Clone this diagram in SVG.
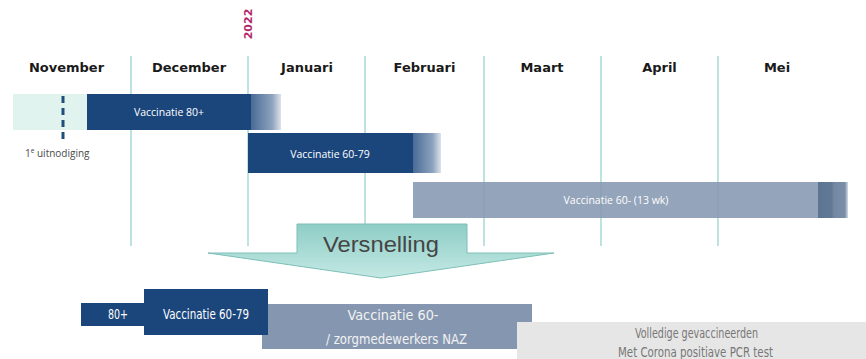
<svg xmlns="http://www.w3.org/2000/svg" width="866" height="359" viewBox="0 0 866 359">
<defs>
<style>
.month{font-family:"DejaVu Sans",Verdana,sans-serif;font-weight:bold;font-size:13px;fill:#1a1a1a;text-anchor:middle}
.grid{stroke:#a9d9d2;stroke-width:1.5}
.dark{fill:#1b467c}
.grey{fill:#8597b0}
.bartxt{font-family:"Open Sans","Liberation Sans",sans-serif;font-size:10.5px;fill:#ffffff;text-anchor:middle}
.narrow{font-family:"Liberation Sans Narrow","DejaVu Sans Condensed",sans-serif;font-size:14px;text-anchor:middle}
</style>
<linearGradient id="fadeDark" x1="0" y1="0" x2="1" y2="0">
<stop offset="0" stop-color="#1b467c" stop-opacity="0.8"/>
<stop offset="0.35" stop-color="#1b467c" stop-opacity="0.65"/>
<stop offset="0.7" stop-color="#1b467c" stop-opacity="0.5"/>
<stop offset="1" stop-color="#1b467c" stop-opacity="0.15"/>
</linearGradient>
<linearGradient id="fadeGrey" x1="0" y1="0" x2="1" y2="0">
<stop offset="0" stop-color="#5d7493"/>
<stop offset="0.45" stop-color="#627995"/>
<stop offset="0.55" stop-color="#7488a3"/>
<stop offset="0.9" stop-color="#7b8ea8"/>
<stop offset="1" stop-color="#7b8ea8" stop-opacity="0.3"/>
</linearGradient>
<linearGradient id="arrowGrad" x1="0" y1="0" x2="0" y2="1">
<stop offset="0" stop-color="#8ecdc6"/>
<stop offset="1" stop-color="#c4e8e4"/>
</linearGradient>
</defs>
<rect width="866" height="359" fill="#ffffff"/>

<g id="year">
<text transform="translate(252,24) rotate(-90)" font-family="DejaVu Sans,sans-serif" font-weight="bold" font-size="11" fill="#b3286c" text-anchor="middle">2022</text>
</g>

<g id="months">
<text class="month" x="66.5" y="72">November</text>
<text class="month" x="189" y="72">December</text>
<text class="month" x="307" y="72">Januari</text>
<text class="month" x="424.5" y="72">Februari</text>
<text class="month" x="542" y="72">Maart</text>
<text class="month" x="659.5" y="72">April</text>
<text class="month" x="777" y="72">Mei</text>
</g>

<g id="gridlines">
<line class="grid" x1="131" y1="56" x2="131" y2="246"/>
<line class="grid" x1="248" y1="56" x2="248" y2="246"/>
<line class="grid" x1="365" y1="56" x2="365" y2="246"/>
<line class="grid" x1="484" y1="56" x2="484" y2="246"/>
<line class="grid" x1="601" y1="56" x2="601" y2="246"/>
<line class="grid" x1="718" y1="56" x2="718" y2="246"/>
</g>

<g id="invite">
<rect x="13" y="94" width="74" height="36" fill="#e0f3ef"/>
<line x1="63" y1="96" x2="63" y2="141" stroke="#1f4e79" stroke-width="3" stroke-dasharray="7,5"/>
<text x="25" y="157" font-family="Open Sans,Liberation Sans,sans-serif" font-size="10" fill="#4a4a4a">1<tspan font-size="6.5" dy="-4">e</tspan><tspan dy="4"> uitnodiging</tspan></text>
</g>

<g id="bar80">
<rect x="251" y="94" width="30" height="36" fill="url(#fadeDark)"/>
<rect class="dark" x="87" y="94" width="164" height="36"/>
<text class="bartxt" x="169" y="116">Vaccinatie 80+</text>
</g>

<g id="bar6079">
<rect x="413" y="133" width="28" height="40" fill="url(#fadeDark)"/>
<rect class="dark" x="248" y="133" width="165" height="40"/>
<text class="bartxt" x="330" y="158">Vaccinatie 60-79</text>
</g>

<g id="bar60">
<rect x="818" y="182" width="30" height="36" fill="url(#fadeGrey)"/>
<rect class="grey" x="413" y="182" width="405" height="36" fill-opacity="0.88"/>
<text class="bartxt" x="616" y="204">Vaccinatie 60- (13 wk)</text>
</g>

<g id="versnelling">
<polygon points="297,224 467,224 467,253 554,253 381,278 208,253 297,253" fill="url(#arrowGrad)" stroke="#7cbfb7" stroke-width="1"/>
<text x="381" y="252" font-family="Liberation Sans,Arial,sans-serif" font-size="22" fill="#454545" text-anchor="middle" textLength="116" lengthAdjust="spacingAndGlyphs">Versnelling</text>
</g>

<g id="new60">
<rect class="grey" x="262" y="304" width="270" height="45"/>
<text class="narrow" x="393" y="320" fill="#f2f2f2" textLength="91" lengthAdjust="spacingAndGlyphs">Vaccinatie  60-</text>
<text class="narrow" x="396.5" y="344" fill="#f2f2f2" textLength="141" lengthAdjust="spacingAndGlyphs">/ zorgmedewerkers NAZ</text>
</g>

<g id="new80">
<rect class="dark" x="81" y="303" width="64" height="23"/>
<text class="narrow" x="118" y="319" fill="#ffffff" textLength="20" lengthAdjust="spacingAndGlyphs">80+</text>
</g>

<g id="new6079">
<rect class="dark" x="144" y="289" width="124" height="46"/>
<text class="narrow" x="206" y="319" fill="#ffffff" textLength="86" lengthAdjust="spacingAndGlyphs">Vaccinatie  60-79</text>
</g>

<g id="volledig">
<rect x="517" y="322" width="349" height="37" fill="#e6e6e6"/>
<text class="narrow" x="696.5" y="338" fill="#777777" textLength="123" lengthAdjust="spacingAndGlyphs">Volledige gevaccineerden</text>
<text class="narrow" x="695.5" y="357" fill="#777777" textLength="155" lengthAdjust="spacingAndGlyphs">Met Corona positiave PCR test</text>
</g>
</svg>
